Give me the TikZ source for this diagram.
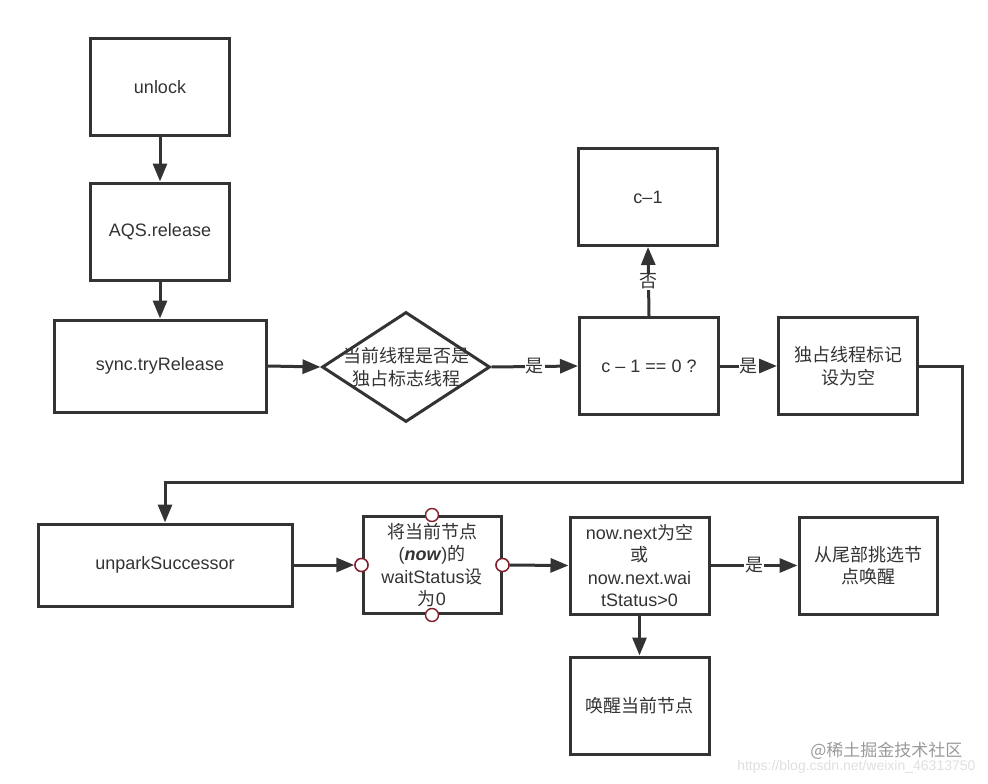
\documentclass[tikz,border=0pt]{standalone}
\usepackage{fontspec}
\setmainfont{Liberation Sans}
\newfontfamily\cjk{Noto Sans CJK SC}
\usetikzlibrary{arrows.meta, shapes.geometric}
\definecolor{linegray}{RGB}{51,51,51}
\definecolor{portred}{RGB}{128,32,44}

\begin{document}
\begin{tikzpicture}[x = 1pt, y = -1pt, >={Triangle[length=18pt, width=14pt]}]
    \tikzstyle{every node} = [text = linegray, font = \fontsize{18pt}{22.5pt}\selectfont];
    \tikzstyle{box} = [draw = linegray, line width = 3pt, rectangle, inner sep = 0pt,
                       minimum width = 139pt, minimum height = 97pt, align = center];
    \tikzstyle{flow} = [draw = linegray, line width = 3pt, ->];
    \tikzstyle{lbl} = [fill = white, inner sep = 1pt, font = \fontsize{18pt}{18pt}\selectfont\cjk];
    \tikzstyle{port} = [draw = portred, fill = white, circle, line width = 1.4pt,
                        minimum size = 13pt, inner sep = 0pt];
    \useasboundingbox (0,0) rectangle (988,784);
    % boxes:
    \node[box] (s0) at (160,87){unlock};
    \node[box] (s1) at (160,231.5){AQS.release};
    \node[box, minimum width = 212pt, minimum height = 92pt] (s2) at (160,366){sync.tryRelease};
    \node[draw = linegray, line width = 3pt, diamond, inner sep = 0pt,
          minimum width = 168pt, minimum height = 110pt] (s3) at (406,367){};
    \node[align = center] (s3t) at (s3){\cjk 当前线程是否是\\\cjk 独占标志线程};
    \node[box] (s4) at (649,366){c – 1 == 0 ?};
    \node[box] (s5) at (648,197){c–1};
    \node[box] (s6) at (848,366){\cjk 独占线程标记\\\cjk 设为空};
    \node[box, minimum width = 254pt, minimum height = 82pt] (s7) at (165,565){unparkSuccessor};
    \node[box, minimum width = 138pt] (s8) at (432,565)
        {{\cjk 将当前节点}\\(\textbf{\textit{now}}){\cjk 的}\\waitStatus{\cjk 设}\\{\cjk 为}0};
    \node[box] (s9) at (639.5,565.5){now.next{\cjk 为空}\\{\cjk 或}\\now.next.wai\\tStatus>0};
    \node[box, minimum width = 138pt] (s10) at (868,565.5){\cjk 从尾部挑选节\\\cjk 点唤醒};
    \node[box] (s11) at (639.5,705.5){\cjk 唤醒当前节点};
    % ports on s8:
    \node[port] (p0) at (s8.west){};
    \node[port] (p1) at (s8.east){};
    \node[port] (p2) at (s8.north){};
    \node[port] (p3) at (s8.south){};
    \coordinate (c0) at (962,482);
    % arrows:
    \draw[flow] (s0) -- (s1);
    \draw[flow] (s1) -- (s2);
    \draw[flow] (s2.east) -- (s3.west);
    \draw[flow] (s3.east) -- node[lbl, midway] (l0){是} (s4.west);
    \draw[flow] (s4.north) -- node[lbl, midway] (l1){否} (s5.south);
    \draw[flow] (s4.east) -- node[lbl, midway] (l2){是} (s6.west);
    \draw[flow] (s6.east) -| (c0) -| (s7.north);
    \draw[flow] (s7.east) -- (p0);
    \draw[flow] (p1) -- (s9.west);
    \draw[flow] (s9.east) -- node[lbl, midway] (l3){是} (s10.west);
    \draw[flow] (s9.south) -- (s11.north);
    % ports again on top:
    \node[port] at (p0){}; \node[port] at (p1){};
    % watermark:
    \node[anchor = east, text = gray!25, font = \fontsize{14pt}{14pt}\selectfont] (w1) at (979,767){https://blog.csdn.net/weixin\_46313750};
    \node[anchor = east, text = gray!80, font = \fontsize{17pt}{17pt}\selectfont\cjk] (w0) at (966,751){@稀土掘金技术社区};
\end{tikzpicture}
\end{document}
